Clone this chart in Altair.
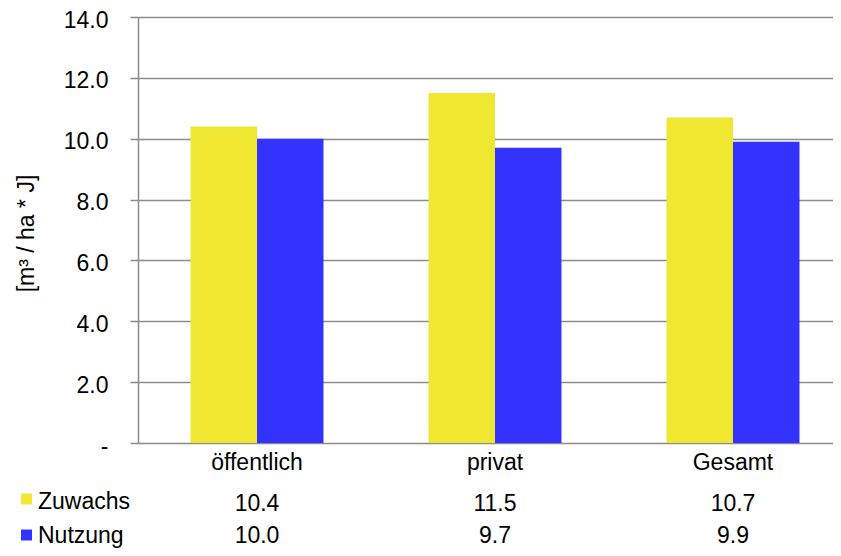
import altair as alt
import pandas as pd

categories = ["öffentlich", "privat", "Gesamt"]
series = ["Zuwachs", "Nutzung"]
zuwachs = [10.4, 11.5, 10.7]
nutzung = [10.0, 9.7, 9.9]
colors = ["#F0E830", "#3333FF"]
y_ticks = [0, 2, 4, 6, 8, 10, 12, 14]

rows = []
for c, z, n in zip(categories, zuwachs, nutzung):
    rows.append({"cat": c, "series": "Zuwachs", "value": z, "label": f"{z:.1f}"})
    rows.append({"cat": c, "series": "Nutzung", "value": n, "label": f"{n:.1f}"})
df = pd.DataFrame(rows)
cat_df = pd.DataFrame({"cat": categories})
leg_df = pd.DataFrame({"series": series})

FONT = "Liberation Sans"
FS = 23
GRAY = "#8c8c8c"

x_enc = alt.X("cat:N", sort=categories,
              scale=alt.Scale(range=[0, 714], paddingInner=0, paddingOuter=0),
              axis=None)
color_enc = alt.Color("series:N", scale=alt.Scale(domain=series, range=colors), legend=None)

bars = alt.Chart(df).mark_bar().encode(
    x=x_enc,
    xOffset=alt.XOffset("series:N", sort=series,
                        scale=alt.Scale(paddingInner=0, paddingOuter=0.79)),
    y=alt.Y("value:Q", scale=alt.Scale(domain=[0, 14]),
            axis=alt.Axis(values=y_ticks, format=".1f",
                          labelExpr="datum.value == 0 ? '-\u00a0\u00a0' : format(datum.value, '.1f')",
                          labelFont=FONT, labelFontSize=FS, labelColor="black",
                          labelPadding=22, labelOffset=3,
                          tickSize=8, tickColor=GRAY, tickWidth=1.5,
                          domainColor=GRAY, domainWidth=1.5,
                          grid=True, gridColor=GRAY, gridWidth=1.5,
                          title="[m³ / ha * J]", titleFont=FONT, titleFontSize=FS,
                          titleFontWeight="normal", titleColor="black",
                          titleX=-112, titleY=216, titleAngle=270,
                          titleAlign="center", titleBaseline="middle")),
    color=color_enc,
)

def text_layer(data, field, y, align="center", x=None):
    enc = dict(y=alt.value(y), text=f"{field}:N")
    enc["x"] = x_enc if x is None else alt.value(x)
    return alt.Chart(data).mark_text(font=FONT, fontSize=FS, color="black",
                                     align=align, baseline="alphabetic").encode(**enc)

xlabels = text_layer(cat_df, "cat", 453)
row_z = text_layer(df[df.series == "Zuwachs"], "label", 494)
row_n = text_layer(df[df.series == "Nutzung"], "label", 526)
txt_z = text_layer(leg_df[leg_df.series == "Zuwachs"], "series", 492, align="left", x=-100)
txt_n = text_layer(leg_df[leg_df.series == "Nutzung"], "series", 526, align="left", x=-100)

key_z = alt.Chart(leg_df[leg_df.series == "Zuwachs"]).mark_square(size=121, opacity=1).encode(
    x=alt.value(-111.5), y=alt.value(482), color=color_enc)
key_n = alt.Chart(leg_df[leg_df.series == "Nutzung"]).mark_square(size=121, opacity=1).encode(
    x=alt.value(-111.5), y=alt.value(518), color=color_enc)

chart = alt.layer(bars, xlabels, row_z, row_n, key_z, key_n, txt_z, txt_n).properties(
    width=695, height=426,
    autosize=alt.AutoSizeParams(type="none"),
    padding={"left": 130, "top": 9, "right": 0, "bottom": 105},
).configure_view(stroke=None).configure(background="white")

chart.save("out.html", embed_options={"renderer": "svg", "actions": False})
